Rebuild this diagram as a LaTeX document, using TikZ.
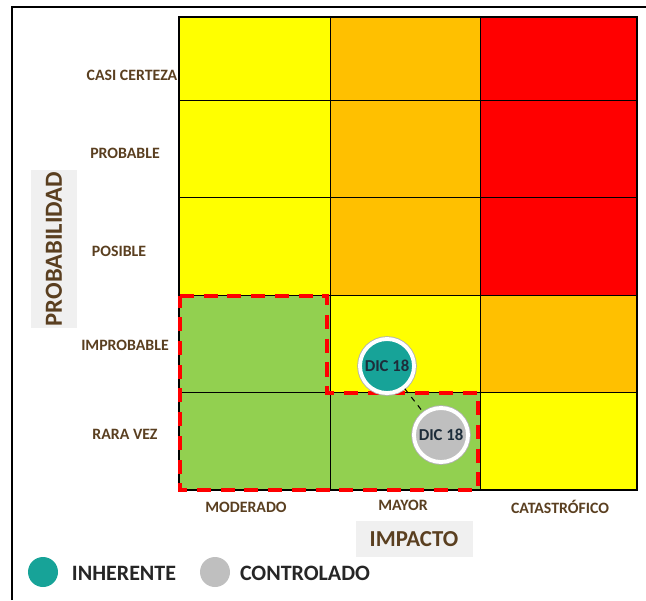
\documentclass[tikz,border=0pt]{standalone}
\usepackage{fontspec}
\setmainfont{Carlito}
\usetikzlibrary{positioning}
\definecolor{amarillo}{HTML}{FFFF00}
\definecolor{naranja}{HTML}{FFC000}
\definecolor{rojo}{HTML}{FF0000}
\definecolor{verde}{HTML}{92D050}
\definecolor{cafe}{HTML}{5A3F20}
\definecolor{turquesa}{HTML}{17A398}
\definecolor{gris}{HTML}{BFBFBF}
\definecolor{tinta}{HTML}{1E2D3A}

\begin{document}
\begin{tikzpicture}[x=0.02cm, y=-0.02cm,
    etiq/.style={font=\bfseries\fontsize{9}{11}\selectfont, text=cafe},
    eje/.style={fill=black!6, font=\bfseries\fontsize{14}{16}\selectfont, text=cafe, inner sep=0pt},
    punto/.style={circle, minimum size=54*0.02cm, inner sep=0pt, draw=white, line width=2.2pt,
        preaction={draw=black!30, line width=3.2pt}, text=tinta, font=\bfseries\fontsize{9.5}{11}\selectfont},
    leyenda/.style={font=\bfseries\fontsize{12.5}{14}\selectfont, text=black!85}]
    \useasboundingbox (0,0) rectangle (646,600);
    % marco
    \draw[line width=1.6pt] (12,600) -- (12,7) -- (646,7);
    % celdas
    \foreach \ya/\yb/\ca/\cb/\cc in {17/100/amarillo/naranja/rojo, 100/197/amarillo/naranja/rojo,
        197/295/amarillo/naranja/rojo, 295/392/verde/amarillo/naranja, 392/490/verde/verde/amarillo}{
        \fill[\ca] (179,\ya) rectangle (330,\yb);
        \fill[\cb] (330,\ya) rectangle (480,\yb);
        \fill[\cc] (480,\ya) rectangle (637,\yb);
    }
    \foreach \y in {100,197,295,392} \draw[line width=0.5pt] (179,\y) -- (637,\y);
    \foreach \x in {330,480} \draw[line width=0.5pt] (\x,17) -- (\x,490);
    \draw[line width=0.8pt] (179,17) rectangle (637,490);
    % zona controlada
    \draw[rojo, line width=2.3pt, dash pattern=on 8pt off 5.5pt]
        (180,296) -- (327,296) -- (327,393) -- (478,393) -- (478,490) -- (180,490) -- cycle;
    % probabilidad
    \node[etiq] (cc) at (132,75) {CASI CERTEZA};
    \node[etiq] (pr) at (125,153) {PROBABLE};
    \node[etiq] (po) at (119,251) {POSIBLE};
    \node[etiq] (im) at (125,345) {IMPROBABLE};
    \node[etiq] (rv) at (125,434) {RARA VEZ};
    \node[eje, rotate=90, minimum width=158*0.02cm, minimum height=46*0.02cm] (prob) at (54,249) {PROBABILIDAD};
    % impacto
    \node[etiq] (mo) at (246,507) {MODERADO};
    \node[etiq] (ma) at (403,505) {MAYOR};
    \node[etiq] (ca) at (560,507) {CATASTRÓFICO};
    \node[eje, minimum width=117*0.02cm, minimum height=36*0.02cm, font=\bfseries\fontsize{13}{15}\selectfont] (imp) at (414,539) {IMPACTO};
    % riesgos
    \node[punto, fill=turquesa] (inh) at (387,366) {DIC 18};
    \node[punto, fill=gris] (ctl) at (441,435) {DIC 18};
    \draw[dashed, line width=0.6pt] (inh) -- (ctl);
    % leyenda
    \node[circle, fill=turquesa, minimum size=30*0.02cm] (li) at (43,572) {};
    \node[leyenda] (tli) at (124,573) {INHERENTE};
    \node[circle, fill=gris, minimum size=30*0.02cm] (lc) at (215,572) {};
    \node[leyenda] (tlc) at (305,573) {CONTROLADO};
\end{tikzpicture}
\end{document}
